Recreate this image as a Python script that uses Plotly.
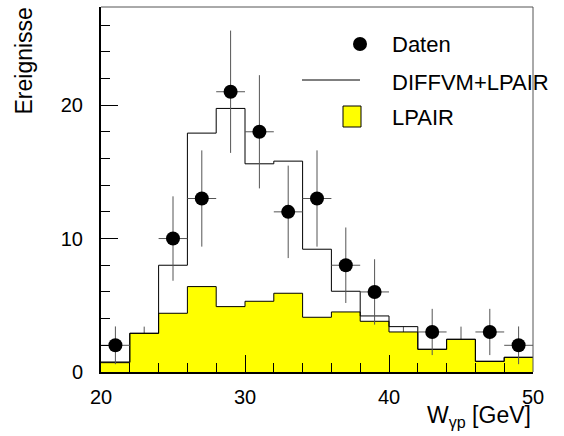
import numpy as np
import plotly.graph_objects as go

# bin edges of W_gp [GeV]
edges = [20, 22, 24, 26, 28, 30, 32, 34, 36, 38, 40, 42, 44, 46, 48, 50]

# measured events per bin (bin centres)
data_x = [21, 25, 27, 29, 31, 33, 35, 37, 39, 43, 47, 49]
data_y = [2, 10, 13, 21, 18, 12, 13, 8, 6, 3, 3, 2]

# empty bins, only an upper error bar is drawn
zero_x = [23, 41, 45]
zero_up = [3.4, 3.4, 3.4]

# MC expectations per bin
diffvm_lpair = [0.75, 2.9, 8.0, 17.9, 19.75, 15.6, 15.8, 9.2, 6.05, 4.2, 3.4, 1.7, 2.45, 0.8, 1.1]
lpair = [0.7, 2.9, 4.4, 6.4, 4.9, 5.3, 5.9, 4.1, 4.5, 3.8, 3.0, 1.7, 2.45, 0.8, 1.1]

FONT = "Liberation Sans, Arial, sans-serif"
W, H = 564, 436
L, R, T, B = 101, 31, 7, 64


def px(x):
    return (x - L) / (W - L - R)


def py(y):
    return (H - B - y) / (H - T - B)


fig = go.Figure()

fig.add_trace(go.Scatter(
    x=zero_x, y=[0] * len(zero_x), mode="markers",
    marker=dict(size=1, opacity=0),
    error_y=dict(type="data", array=zero_up, arrayminus=[0] * len(zero_x),
                 color="#555555", thickness=1, width=0),
    showlegend=False, hoverinfo="skip",
))

fig.add_trace(go.Scatter(
    x=edges, y=lpair + [lpair[-1]], mode="lines", line_shape="hv",
    line=dict(color="black", width=1), fill="tozeroy", fillcolor="#ffff00",
    showlegend=False,
))

fig.add_trace(go.Scatter(
    x=edges, y=diffvm_lpair + [diffvm_lpair[-1]], mode="lines", line_shape="hv",
    line=dict(color="black", width=1), showlegend=False,
))

fig.add_trace(go.Scatter(
    x=data_x, y=data_y, mode="markers",
    marker=dict(color="black", size=14),
    error_y=dict(type="data", array=np.sqrt(data_y), color="#555555", thickness=1, width=0),
    error_x=dict(type="data", array=[1] * len(data_x), color="#555555", thickness=1, width=0),
    showlegend=False,
))

axis_common = dict(
    showgrid=False, zeroline=False, showline=True, linecolor="black", linewidth=2,
    ticks="inside", ticklen=17, tickwidth=1, tickcolor="black", dtick=10,
    tickfont=dict(family=FONT, size=20, color="black"),
    minor=dict(dtick=2, ticks="inside", ticklen=9, tickwidth=1, tickcolor="black"),
    automargin=False,
)

fig.update_xaxes(range=[20, 50], tick0=20, ticklabelstandoff=6, **axis_common)
fig.update_yaxes(range=[0, 27.35], tick0=0, ticklabelstandoff=12, **axis_common)

shapes = [
    # top and right frame
    dict(type="line", xref="paper", yref="paper", x0=0, x1=1, y0=1, y1=1,
         line=dict(color="#555555", width=1)),
    dict(type="line", xref="paper", yref="paper", x0=1, x1=1, y0=0, y1=1,
         line=dict(color="#555555", width=1)),
    # legend symbols
    dict(type="circle", xref="paper", yref="paper", x0=px(353), x1=px(367), y0=py(51), y1=py(37),
         fillcolor="black", line=dict(color="black", width=0)),
    dict(type="line", xref="paper", yref="paper", x0=px(302), x1=px(360), y0=py(80), y1=py(80),
         line=dict(color="black", width=1)),
    dict(type="rect", xref="paper", yref="paper", x0=px(343), x1=px(361), y0=py(127), y1=py(106),
         fillcolor="#ffff00", line=dict(color="black", width=1)),
]

legend_text = ["Daten", "DIFFVM+LPAIR", "LPAIR"]
legend_y = [44, 82, 118]
annotations = [
    dict(text=t, xref="paper", yref="paper", x=px(390), y=py(yy), xanchor="left", yanchor="middle",
         showarrow=False, font=dict(family=FONT, size=22, color="black"))
    for t, yy in zip(legend_text, legend_y)
]
annotations.append(dict(
    text="Ereignisse", xref="paper", yref="paper", x=px(24), y=py(6), xanchor="center", yanchor="top",
    textangle=-90, showarrow=False, font=dict(family=FONT, size=23, color="black")))
annotations.append(dict(
    text="W<sub>γp</sub> [GeV]", xref="paper", yref="paper", x=px(533), y=py(416), xanchor="right",
    yanchor="middle", showarrow=False, font=dict(family=FONT, size=23, color="black")))

fig.update_layout(
    width=W, height=H, margin=dict(l=L, r=R, t=T, b=B, autoexpand=False),
    plot_bgcolor="white", paper_bgcolor="white",
    shapes=shapes, annotations=annotations, showlegend=False,
)

fig.write_html("out.html", config={"displayModeBar": False},
               post_script="document.body.style.margin='0';")
